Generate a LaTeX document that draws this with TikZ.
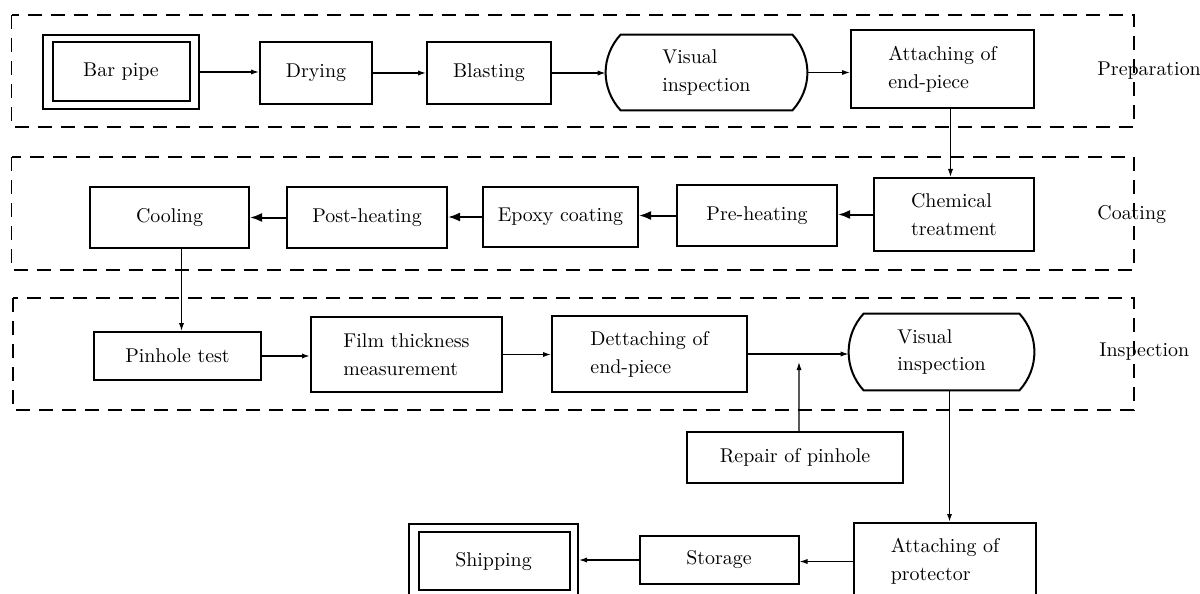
\documentclass[tikz,border=0pt]{standalone}
\usetikzlibrary{arrows.meta,calc}
\newcommand\vshape[1]{\draw[line width=1bp] ($(#1.north west)+(15,0)$) -- ($(#1.north east)+(-15,0)$) .. controls ($(#1.north east)+(5,22)$) and ($(#1.south east)+(5,-22)$) .. ($(#1.south east)+(-15,0)$) -- ($(#1.south west)+(15,0)$) .. controls ($(#1.south west)+(-5,-22)$) and ($(#1.north west)+(-5,22)$) .. cycle;}
\begin{document}
\begin{tikzpicture}[x=0.5bp,y=-0.5bp,
  txt/.style={rectangle,inner sep=0pt,font=\fontsize{10}{14}\selectfont,align=left},
  box/.style={txt,draw,line width=1bp},
  grp/.style={draw,line width=0.7bp,dash pattern=on 7bp off 4.5bp},
  arr/.style={line width=0.6bp,-{Latex[length=4bp,width=2.6bp]}},
  arrb/.style={line width=1bp,-{Latex[length=6bp,width=4.5bp]}},
  lab/.style={anchor=west,inner sep=0pt,font=\fontsize{10}{12}\selectfont}]
\useasboundingbox (0,0) rectangle (1200,594);
% groups
\draw[grp] (11.5,15) rectangle (1134,127);
\draw[grp] (11.5,157) rectangle (1134,270);
\draw[grp] (13,298) rectangle (1134,410);
\node[lab] (lprep) at (1097,71) {Preparation};
\node[lab] (lcoat) at (1097,215) {Coating};
\node[lab] (linsp) at (1099,352) {Inspection};
% row 1
\node[box,minimum width=78bp,minimum height=37bp] (barpipe) at (121,72) {Bar pipe};
\draw[line width=1bp] ($(barpipe.north west)+(11,8)$) rectangle ($(barpipe.south east)+(-10,-9)$);
\node[box,minimum width=56bp,minimum height=31bp] (drying) at (316,73) {Drying};
\node[box,minimum width=62bp,minimum height=31bp] (blasting) at (489,73) {Blasting};
\node[txt,minimum width=100.5bp,minimum height=37.5bp] (vis1) at (706.5,72.5) {Visual\\inspection};
\vshape{vis1}
\node[box,minimum width=91.5bp,minimum height=39bp] (att1) at (942.5,69) {Attaching of\\end-piece};
% row 2
\node[box,minimum width=80bp,minimum height=36.5bp] (chem) at (954,214.5) {Chemical\\treatment};
\node[box,minimum width=80bp,minimum height=30.5bp] (pre) at (757,215.5) {Pre-heating};
\node[box,minimum width=77.5bp,minimum height=30bp] (epoxy) at (560.5,217) {Epoxy coating};
\node[box,minimum width=80bp,minimum height=30.5bp] (post) at (367,217.5) {Post-heating};
\node[box,minimum width=79.5bp,minimum height=30.5bp] (cool) at (169.5,217.5) {Cooling};
% row 3
\node[box,minimum width=83.5bp,minimum height=24bp] (pin) at (177.5,356) {Pinhole test};
\node[box,minimum width=95.5bp,minimum height=37.5bp] (film) at (406.5,354.5) {Film thickness\\measurement};
\node[box,minimum width=97.5bp,minimum height=38bp] (det) at (649.5,354) {Dettaching of\\end-piece};
\node[txt,minimum width=92.5bp,minimum height=38bp] (vis2) at (941.5,352) {Visual\\inspection};
\vshape{vis2}
\node[box,minimum width=108bp,minimum height=25.5bp] (repair) at (795,457.5) {Repair of pinhole};
% row 4
\node[box,minimum width=91bp,minimum height=38.5bp] (att2) at (945,561.5) {Attaching of\\protector};
\node[box,minimum width=79.5bp,minimum height=24bp] (stor) at (719,560) {Storage};
\node[box,minimum width=84.5bp,minimum height=38bp] (ship) at (493.5,562) {Shipping};
\draw[line width=1bp] ($(ship.north west)+(11,9)$) rectangle ($(ship.south east)+(-9,-11)$);
% connectors
\draw[arr] (barpipe.east) -- (barpipe.east -| drying.west);
\draw[arr] (drying.east) -- (drying.east -| blasting.west);
\draw[arr] (blasting.east) -- (blasting.east -| vis1.west);
\draw[arr] (vis1.east) -- (vis1.east -| att1.west);
\draw[arr] ([xshift=4bp]att1.south) -- ([xshift=4bp]att1.south |- chem.north);
\draw[arrb] (chem.west) -- (chem.west -| pre.east);
\draw[arrb] (pre.west) -- (pre.west -| epoxy.east);
\draw[arrb] (epoxy.west) -- (epoxy.west -| post.east);
\draw[arrb] (post.west) -- (post.west -| cool.east);
\draw[arr] ([xshift=6bp]cool.south) -- ([xshift=6bp]cool.south |- pin.north);
\draw[arr,line width=0.9bp] (pin.east) -- (pin.east -| film.west);
\draw[arr] (film.east) -- (film.east -| det.west);
\draw[arr] (det.east) -- (det.east -| vis2.west);
\coordinate (rj) at (799,362);
\draw[arr] ([xshift=2bp]repair.north) -- (rj);
\draw[arr,line width=0.8bp] ([xshift=4bp]vis2.south) -- ([xshift=4bp]vis2.south |- att2.north);
\draw[arr] (att2.west) -- (att2.west -| stor.east);
\draw[arr] (stor.west) -- (stor.west -| ship.east);
\end{tikzpicture}
\end{document}
